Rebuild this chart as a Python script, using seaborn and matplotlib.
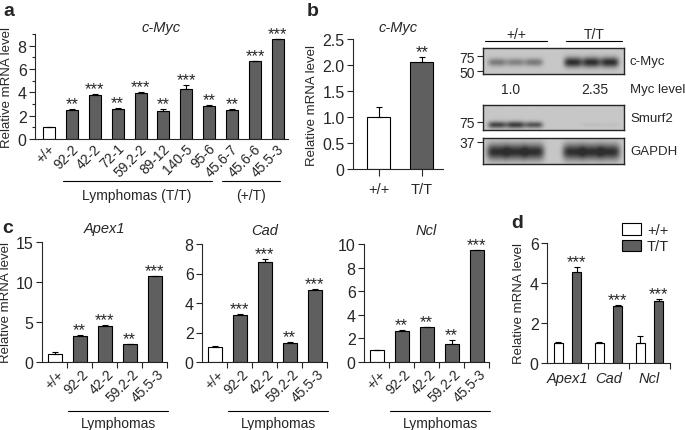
import numpy as np
import pandas as pd
import seaborn as sns
import matplotlib
matplotlib.use('Agg')
import matplotlib.pyplot as plt
from matplotlib.transforms import ScaledTranslation

W, H = 685, 431
GRAY = '#5f5f5f'

# panel a: c-Myc in lymphomas
a_samples = ['+/+', '92-2', '42-2', '72-1', '59.2-2', '89-12', '140-5', '95-6',
             '45.6-7', '45.6-6', '45.5-3']
a_values = [1.0, 2.45, 3.8, 2.55, 3.95, 2.4, 4.3, 2.8, 2.45, 6.65, 8.55]
a_errors = [0.0, 0.1, 0.08, 0.08, 0.06, 0.2, 0.3, 0.15, 0.15, 0.0, 0.0]
a_stars = ['', '**', '***', '**', '***', '**', '***', '**', '**', '***', '***']

# panel b: c-Myc, +/+ vs T/T
b_groups = ['+/+', 'T/T']
b_values = [1.0, 2.05]
b_errors = [0.2, 0.1]
b_stars = ['', '**']

# panel b: western blot band strength per lane (3 x +/+, 3 x T/T)
myc_band = [0.5, 0.45, 0.5, 1.0, 1.0, 1.0]
smurf2_band = [0.85, 0.9, 0.75, 0.0, 0.06, 0.05]
gapdh_band = [1.0, 1.0, 1.0, 1.0, 1.0, 1.0]
myc_level = ['1.0', '2.35']

# panel c: target genes in lymphomas
c_samples = ['+/+', '92-2', '42-2', '59.2-2', '45.5-3']
apex1_values = [1.05, 3.25, 4.5, 2.25, 10.7]
apex1_errors = [0.2, 0.1, 0.1, 0.05, 0.05]
apex1_stars = ['', '**', '***', '**', '***']
cad_values = [1.03, 3.2, 6.8, 1.3, 4.88]
cad_errors = [0.07, 0.03, 0.15, 0.03, 0.1]
cad_stars = ['', '***', '***', '**', '***']
ncl_values = [1.0, 2.6, 2.93, 1.55, 9.45]
ncl_errors = [0.0, 0.08, 0.03, 0.32, 0.05]
ncl_stars = ['', '**', '**', '**', '***']

# panel d: target genes, +/+ vs T/T
d_genes = ['Apex1', 'Cad', 'Ncl']
d_wt = [1.0, 1.0, 1.0]
d_wt_err = [0.05, 0.06, 0.33]
d_tt = [4.53, 2.85, 3.1]
d_tt_err = [0.27, 0.05, 0.08]
d_stars = ['***', '***', '***']

sns.set_style('ticks')
plt.rcParams['font.family'] = ['Liberation Sans', 'DejaVu Sans']
plt.rcParams['axes.linewidth'] = 0.8

fig = plt.figure(figsize=(W / 100, H / 100), dpi=100)

STAR_SIZE = 12


def add_axes(l, t, r, b):
    return fig.add_axes([l / W, 1 - b / H, (r - l) / W, (b - t) / H])


def put_stars(ax, xs, tops, stars):
    for xi, v, s in zip(xs, tops, stars):
        if s:
            ax.annotate(s, (xi, v), xytext=(0, -1.5), textcoords='offset points',
                        ha='center', va='bottom', fontsize=STAR_SIZE)


def bar_panel(ax, labels, values, errors, stars, colors, width):
    df = pd.DataFrame({'sample': labels, 'value': values})
    sns.barplot(data=df, x='sample', y='value', hue='sample', palette=colors,
                legend=False, width=width, edgecolor='black', linewidth=0.8,
                errorbar=None, ax=ax)
    x = np.arange(len(labels))
    ax.errorbar(x, values, yerr=[np.zeros(len(values)), errors], fmt='none',
                ecolor='black', elinewidth=0.8, capsize=2.5, capthick=0.8)
    put_stars(ax, x, np.add(values, errors), stars)
    sns.despine(ax=ax)
    ax.set_xlabel('')
    ax.set_ylabel('Relative mRNA level', fontsize=9.5, labelpad=3)
    ax.tick_params(axis='y', length=4, width=0.8, labelsize=11.5, pad=2)


def rotate_labels(ax, shift_px):
    off = ScaledTranslation(shift_px / 100, 0, fig.dpi_scale_trans)
    for lab in ax.get_xticklabels():
        lab.set_rotation(45)
        lab.set_ha('right')
        lab.set_va('center')
        lab.set_rotation_mode('anchor')
        lab.set_fontsize(10)
        lab.set_transform(lab.get_transform() + off)


def bracket(ax, x0, x1, y_line, y_text, text):
    tr = ax.get_xaxis_transform()
    ax.plot([x0, x1], [y_line, y_line], color='black', lw=0.8, transform=tr, clip_on=False)
    ax.text((x0 + x1) / 2, y_text, text, transform=tr, ha='center', va='center', fontsize=10)


# ---- panel a ----
ax = add_axes(35, 35, 288, 140)
bar_panel(ax, a_samples, a_values, a_errors, a_stars, ['white'] + [GRAY] * 10, 0.52)
ax.set_xlim(-0.61, 10.44)
ax.set_ylim(0, 9)
ax.set_yticks([0, 2, 4, 6, 8])
ax.set_yticks([1, 3, 5, 7, 9], minor=True)
ax.tick_params(axis='y', which='minor', length=2.5, width=0.8)
ax.tick_params(axis='x', length=0, pad=5)
rotate_labels(ax, 4)
ax.set_title('c-Myc', style='italic', fontsize=10.5, pad=1)
bracket(ax, 0.6, 7.1, -0.40, -0.53, 'Lymphomas (T/T)')
bracket(ax, 7.55, 10.1, -0.40, -0.53, '(+/T)')

# ---- panel b bars ----
ax = add_axes(353, 40, 443, 170)
bar_panel(ax, b_groups, b_values, b_errors, b_stars, ['white', GRAY], 0.53)
ax.set_xlim(-0.6, 1.49)
ax.set_ylim(0, 2.5)
ax.set_yticks([0, 0.5, 1.0, 1.5, 2.0, 2.5], ['0', '0.5', '1.0', '1.5', '2.0', '2.5'])
ax.tick_params(axis='x', length=5, width=0.8, labelsize=10.5, pad=4)
ax.set_title('c-Myc', style='italic', fontsize=10.5, pad=6)

# ---- panel b western blot ----
lane_x = [0.1, 0.23, 0.36, 0.64, 0.77, 0.9]
BLOT_FS = 9


def blot(t, b, bands, y0, sy, sx, ticks, tick_labels, name):
    bx = add_axes(483, t, 624, b)
    xs = np.linspace(0, 1, 280)[None, :]
    ys = np.linspace(0, 1, 50)[:, None]
    img = np.zeros((50, 280))
    for lx, k in zip(lane_x, bands):
        s = sy * (0.55 + 0.45 * k)
        img += k * np.exp(-((xs - lx) / sx) ** 4 - ((ys - y0) / s) ** 2)
    img = 0.78 - 0.6 * np.clip(img, 0, 1)
    bx.imshow(img, cmap='gray', vmin=0, vmax=1, extent=(0, 1, 0, 1), aspect='auto')
    bx.set_xticks([])
    bx.set_yticks(ticks, tick_labels)
    bx.tick_params(axis='y', length=4, width=0.8, labelsize=10, pad=2)
    for sp in bx.spines.values():
        sp.set_linewidth(1.0)
    fig.text(630 / W, 1 - (t + b) / 2 / H, name, fontsize=BLOT_FS + 0.5, va='center', ha='left')


blot(49, 75, myc_band, 0.55, 0.2, 0.065, [0.69, 0.115], ['75', '50'], 'c-Myc')
blot(106, 131, smurf2_band, 0.8, 0.15, 0.065, [0.32], ['75'], 'Smurf2')
blot(139, 165, gapdh_band, 0.55, 0.3, 0.075, [0.85], ['37'], 'GAPDH')

for x0, x1, lab in [(485, 547, '+/+'), (566, 622, 'T/T')]:
    fig.add_artist(plt.Line2D([x0 / W, x1 / W], [1 - 42 / H] * 2, color='black', lw=0.8))
    fig.text((x0 + x1) / 2 / W, 1 - 35 / H, lab, ha='center', va='center', fontsize=10)
fig.text(511 / W, 1 - 90 / H, myc_level[0], ha='center', va='center', fontsize=10)
fig.text(595 / W, 1 - 90 / H, myc_level[1], ha='center', va='center', fontsize=10)
fig.text(630 / W, 1 - 90 / H, 'Myc level', ha='left', va='center', fontsize=BLOT_FS + 0.5)

# ---- panel c ----
c_specs = [
    (42, 243, 167, apex1_values, apex1_errors, apex1_stars, 'Apex1', 15, [0, 5, 10, 15]),
    (202, 245, 327, cad_values, cad_errors, cad_stars, 'Cad', 8, [0, 2, 4, 6, 8]),
    (364, 245, 489, ncl_values, ncl_errors, ncl_stars, 'Ncl', 10, [0, 2, 4, 6, 8, 10]),
]
for i, (l, t, r, vals, errs, stars, gene, top, yt) in enumerate(c_specs):
    ax = add_axes(l, t, r, 363)
    bar_panel(ax, c_samples, vals, errs, stars, ['white'] + [GRAY] * 4, 0.56)
    ax.set_xlim(-0.5, 4.5)
    ax.set_ylim(0, top)
    ax.set_yticks(yt)
    ax.set_xticks(np.arange(0.5, 5, 1), minor=True)
    ax.tick_params(axis='x', which='minor', length=4, width=0.8)
    ax.tick_params(axis='x', which='major', length=0, pad=7)
    rotate_labels(ax, 7)
    ax.set_title(gene, style='italic', fontsize=10.5, pad=7)
    if i > 0:
        ax.set_ylabel('')
    hpx = 363 - t
    bracket(ax, 0.55, 4.55, (363 - 412) / hpx, (363 - 424) / hpx, 'Lymphomas')

# ---- panel d ----
ax = add_axes(547, 244, 670, 364)
d_df = pd.DataFrame({'gene': d_genes * 2,
                     'genotype': ['+/+'] * 3 + ['T/T'] * 3,
                     'value': d_wt + d_tt})
sns.barplot(data=d_df, x='gene', y='value', hue='genotype', palette=['white', GRAY],
            width=0.88, gap=0.45, edgecolor='black', linewidth=0.8, errorbar=None, ax=ax)
for k, (cont, vals, errs) in enumerate(zip(ax.containers, [d_wt, d_tt], [d_wt_err, d_tt_err])):
    xs = [p.get_x() + p.get_width() / 2 for p in cont.patches]
    ax.errorbar(xs, vals, yerr=[np.zeros(3), errs], fmt='none', ecolor='black',
                elinewidth=0.8, capsize=2.5, capthick=0.8)
    if k == 1:
        put_stars(ax, xs, np.add(vals, errs), d_stars)
sns.despine(ax=ax)
ax.set_xlim(-0.5, 2.5)
ax.set_ylim(0, 6)
ax.set_yticks([0, 2, 4, 6])
ax.set_xlabel('')
ax.set_ylabel('Relative mRNA level', fontsize=9.5, labelpad=3)
ax.tick_params(axis='y', length=4, width=0.8, labelsize=11.5, pad=2)
ax.set_xticks(np.arange(0.5, 3, 1), minor=True)
ax.tick_params(axis='x', which='minor', length=4, width=0.8)
ax.tick_params(axis='x', which='major', length=0, pad=6, labelsize=10.5)
for lab in ax.get_xticklabels():
    lab.set_style('italic')
ax.legend(frameon=False, loc='upper left', bbox_to_anchor=(622 / W, 1 - 224 / H),
          bbox_transform=fig.transFigure, fontsize=10.5, handlelength=1.3,
          handleheight=0.8, handletextpad=0.4, labelspacing=0.15,
          borderpad=0, borderaxespad=0)

# panel letters
for txt, x, y in [('a', 3, 12), ('b', 307, 12), ('c', 2, 229), ('d', 511, 224)]:
    fig.text(x / W, 1 - y / H, txt, fontsize=14, weight='bold', ha='left', va='center')

fig.savefig('out.png', dpi=100)
plt.close(fig)
